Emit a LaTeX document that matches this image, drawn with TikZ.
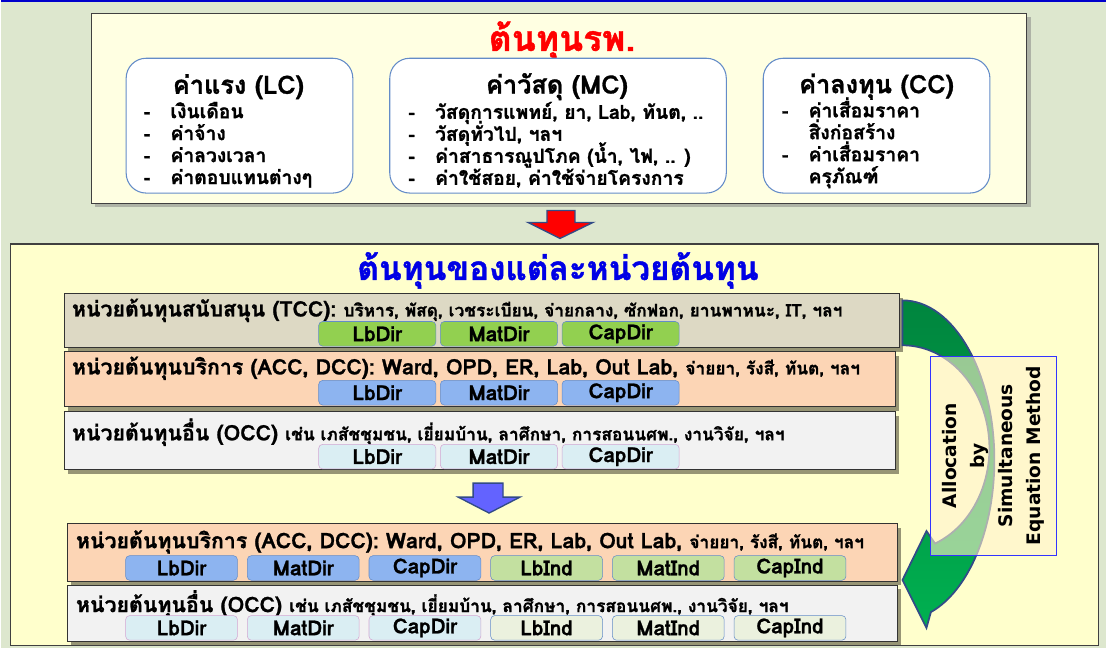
\documentclass[tikz,border=0pt]{standalone}
\usepackage{fontspec}
\setmainfont{DejaVu Sans}
\newfontfamily\thai[Script=Thai, BoldFeatures={FakeBold=1.2}]{Loma}
\usetikzlibrary{positioning}
\usetikzlibrary{shadows}

\definecolor{bgcol}{RGB}{221,231,206}
\definecolor{topfill}{RGB}{255,255,226}
\definecolor{lowfill}{RGB}{255,255,204}
\definecolor{boxline}{RGB}{100,140,200}
\definecolor{tccfill}{RGB}{221,217,196}
\definecolor{accfill}{RGB}{252,213,181}
\definecolor{occfill}{RGB}{242,242,242}
\definecolor{dirgreen}{RGB}{146,208,80}
\definecolor{dirblue}{RGB}{141,180,240}
\definecolor{dirpale}{RGB}{218,238,243}
\definecolor{indgreen}{RGB}{195,224,160}
\definecolor{indpale}{RGB}{235,241,222}
\definecolor{arrowline}{RGB}{50,75,135}
\definecolor{arrowblue}{RGB}{99,99,255}
\definecolor{greentop}{RGB}{0,133,62}
\definecolor{greenbot}{RGB}{0,176,80}
\definecolor{labelfill}{RGB}{255,242,204}

\newcommand{\itm}[1]{\makebox[20pt][l]{-}#1}
\newcommand{\nxt}[1]{\makebox[20pt][l]{}#1}
\newcommand{\smtxt}[1]{{\fontsize{13}{15}\selectfont #1}}
\newcommand{\tightlines}{\setlength{\lineskiplimit}{-20pt}\setlength{\lineskip}{0pt}}

\begin{document}
\begin{tikzpicture}[x=0.75pt, y=-0.75pt,
    framebox/.style={draw=black!75, line width=0.8pt},
    costbox/.style={draw=boxline, fill=white, rounded corners=15pt, line width=0.8pt, anchor=north west},
    rowbox/.style={draw=black!80, line width=0.8pt, anchor=north west, drop shadow={shadow xshift=3pt, shadow yshift=-3pt, opacity=0.55, fill=black!70!olive}},
    itemtext/.style={anchor=north west, align=left, inner sep=0pt, font=\thai\bfseries\fontsize{14.5}{16.5}\selectfont\tightlines},
    boxtitle/.style={font=\thai\bfseries\fontsize{19}{21}\selectfont},
    rowtext/.style={anchor=west, inner sep=0pt, font=\thai\bfseries\fontsize{16}{18}\selectfont},
    tag/.style={draw=boxline, rounded corners=3pt, minimum width=88pt, minimum height=18.5pt, inner sep=0pt, font=\thai\bfseries\fontsize{15.5}{16}\selectfont},
    tagsm/.style={tag, minimum width=84pt}
]
    % Background
    \fill [bgcol] (0,0) rectangle (1107,648);
    \draw [blue!80!black, line width=1.2pt] (0,0) -- (1107,0);

    % Top box: hospital cost
    \node [framebox, fill=topfill, anchor=north west, minimum width=937*0.75pt, minimum height=190*0.75pt,
        drop shadow={shadow xshift=3pt, shadow yshift=-3pt, opacity=0.5}] (hospital) at (90,12) {};
    \node [font=\thai\bfseries\fontsize{26.5}{30}\selectfont, text=red] (hospitaltitle) at (562,40) {ต้นทุนรพ.};
    % - [LC]
    \node [costbox, minimum width=227*0.75pt, minimum height=135*0.75pt] (lc) at (125,57) {};
    \node [boxtitle] (lctitle) at (238,86) {ค่าแรง (LC)};
    \node [itemtext] (lcitems) at (143,101) {\itm{เงินเดือน}\\ \itm{ค่าจ้าง}\\ \itm{ค่าลวงเวลา}\\ \itm{ค่าตอบแทนต่างๆ}};
    % - [MC]
    \node [costbox, minimum width=337*0.75pt, minimum height=135*0.75pt] (mc) at (389,57) {};
    \node [boxtitle] (mctitle) at (557,86) {ค่าวัสดุ (MC)};
    \node [itemtext] (mcitems) at (408,101) {\itm{วัสดุการแพทย์, ยา, Lab, ทันต, ..}\\ \itm{วัสดุทั่วไป, ฯลฯ}\\ \itm{ค่าสาธารณูปโภค (น้ำ, ไฟ, .. )}\\ \itm{ค่าใช้สอย, ค่าใช้จ่ายโครงการ}};
    % - [CC]
    \node [costbox, minimum width=227*0.75pt, minimum height=135*0.75pt] (cc) at (763,57) {};
    \node [boxtitle] (cctitle) at (877,86) {ค่าลงทุน (CC)};
    \node [itemtext] (ccitems) at (782,96.5) {\itm{ค่าเสื่อมราคา}\\ \nxt{สิ่งก่อสร้าง}\\ \itm{ค่าเสื่อมราคา}\\ \nxt{ครุภัณฑ์}};

    % Red block arrow
    \draw [arrowline, fill=red, line width=1pt, line join=miter] (547,210) -- (575,210) -- (575,222) -- (593,222) -- (560,238) -- (528,222) -- (547,222) -- cycle;

    % Lower box: cost of each cost center
    \node [framebox, fill=lowfill, anchor=north west, minimum width=1090*0.75pt, minimum height=402*0.75pt] (centers) at (9,243) {};
    \node [font=\thai\bfseries\fontsize{25}{28}\selectfont, text=blue!90!black] (centerstitle) at (558,270) {ต้นทุนของแต่ละหน่วยต้นทุน};

    % - [TCC]
    \node [rowbox, fill=tccfill, minimum width=836*0.75pt, minimum height=54*0.75pt] (tcc) at (63,293) {};
    \node [rowtext] (tcctext) at (71,310) {หน่วยต้นทุนสนับสนุน (TCC): \smtxt{บริหาร, พัสดุ, เวชระเบียน, จ่ายกลาง, ซักฟอก, ยานพาหนะ, IT, ฯลฯ}};
    \node [tag, fill=dirgreen] (tcclb) at (377,333.5) {LbDir};
    \node [tag, fill=dirgreen, right=3pt of tcclb] (tccmat) {MatDir};
    \node [tag, fill=dirgreen, right=3pt of tccmat] (tcccap) {CapDir};
    % - [ACC, DCC]
    \node [rowbox, fill=accfill, minimum width=832*0.75pt, minimum height=55*0.75pt] (acc) at (63,351) {};
    \node [rowtext] (acctext) at (71,368) {หน่วยต้นทุนบริการ (ACC, DCC): Ward, OPD, ER, Lab, Out Lab, \smtxt{จ่ายยา, รังสี, ทันต, ฯลฯ}};
    \node [tag, fill=dirblue] (acclb) at (377,392.5) {LbDir};
    \node [tag, fill=dirblue, right=3pt of acclb] (accmat) {MatDir};
    \node [tag, fill=dirblue, right=3pt of accmat] (acccap) {CapDir};
    % - [OCC]
    \node [rowbox, fill=occfill, minimum width=832*0.75pt, minimum height=58*0.75pt] (occ) at (63,411) {};
    \node [rowtext] (occtext) at (71,432) {หน่วยต้นทุนอื่น (OCC) \smtxt{เช่น เภสัชชุมชน, เยี่ยมบ้าน, ลาศึกษา, การสอนนศพ., งานวิจัย, ฯลฯ}};
    \node [tag, fill=dirpale, draw=violet!35] (occlb) at (377,456.5) {LbDir};
    \node [tag, fill=dirpale, draw=violet!35, right=3pt of occlb] (occmat) {MatDir};
    \node [tag, fill=dirpale, draw=violet!35, right=3pt of occmat] (occcap) {CapDir};

    % Blue block arrow
    \draw [arrowline, fill=arrowblue, line width=1pt, line join=miter] (473,483) -- (503,483) -- (503,497) -- (520,497) -- (489,513) -- (458,497) -- (473,497) -- cycle;

    % - [ACC, DCC] after allocation
    \node [rowbox, fill=accfill, minimum width=831*0.75pt, minimum height=58*0.75pt] (accall) at (66,523) {};
    \node [rowtext] (accalltext) at (75,542) {หน่วยต้นทุนบริการ (ACC, DCC): Ward, OPD, ER, Lab, Out Lab, \smtxt{จ่ายยา, รังสี, ทันต, ฯลฯ}};
    \node [tagsm, fill=dirblue] (accalllb) at (181,568) {LbDir};
    \node [tagsm, fill=dirblue, right=7pt of accalllb] (accallmat) {MatDir};
    \node [tagsm, fill=dirblue, right=7pt of accallmat] (accallcap) {CapDir};
    \node [tagsm, fill=indgreen, right=7pt of accallcap] (accalllbi) {LbInd};
    \node [tagsm, fill=indgreen, right=7pt of accalllbi] (accallmati) {MatInd};
    \node [tagsm, fill=indgreen, right=7pt of accallmati] (accallcapi) {CapInd};
    % - [OCC] after allocation
    \node [rowbox, fill=occfill, minimum width=831*0.75pt, minimum height=56*0.75pt] (occall) at (66,585) {};
    \node [rowtext] (occalltext) at (75,604) {หน่วยต้นทุนอื่น (OCC) \smtxt{เช่น เภสัชชุมชน, เยี่ยมบ้าน, ลาศึกษา, การสอนนศพ., งานวิจัย, ฯลฯ}};
    \node [tagsm, fill=dirpale, draw=violet!35] (occalllb) at (181,628) {LbDir};
    \node [tagsm, fill=dirpale, draw=violet!35, right=7pt of occalllb] (occallmat) {MatDir};
    \node [tagsm, fill=dirpale, draw=violet!35, right=7pt of occallmat] (occallcap) {CapDir};
    \node [tagsm, fill=indpale, right=7pt of occallcap] (occalllbi) {LbInd};
    \node [tagsm, fill=indpale, right=7pt of occalllbi] (occallmati) {MatInd};
    \node [tagsm, fill=indpale, right=7pt of occallmati] (occallcapi) {CapInd};

    % Curved allocation arrow
    \draw [arrowline, line width=1.3pt, top color=greentop, bottom color=greenbot, line join=miter]
        (903,300) arc (-90:72:92 and 160) -- (927,628) -- (903,580) -- (927,531) -- (935.6,543.5) arc (68:-90:87 and 103) -- cycle;
    % - [Label]
    \node [draw=blue!80, fill=labelfill, fill opacity=0.6, text opacity=1, rotate=90, minimum width=199*0.75pt, minimum height=126*0.75pt,
        align=center, font=\bfseries\fontsize{14}{21}\selectfont] (alloclabel) at (994,455.5) {Allocation\\by\\Simultaneous\\Equation Method};

\end{tikzpicture}
\end{document}
